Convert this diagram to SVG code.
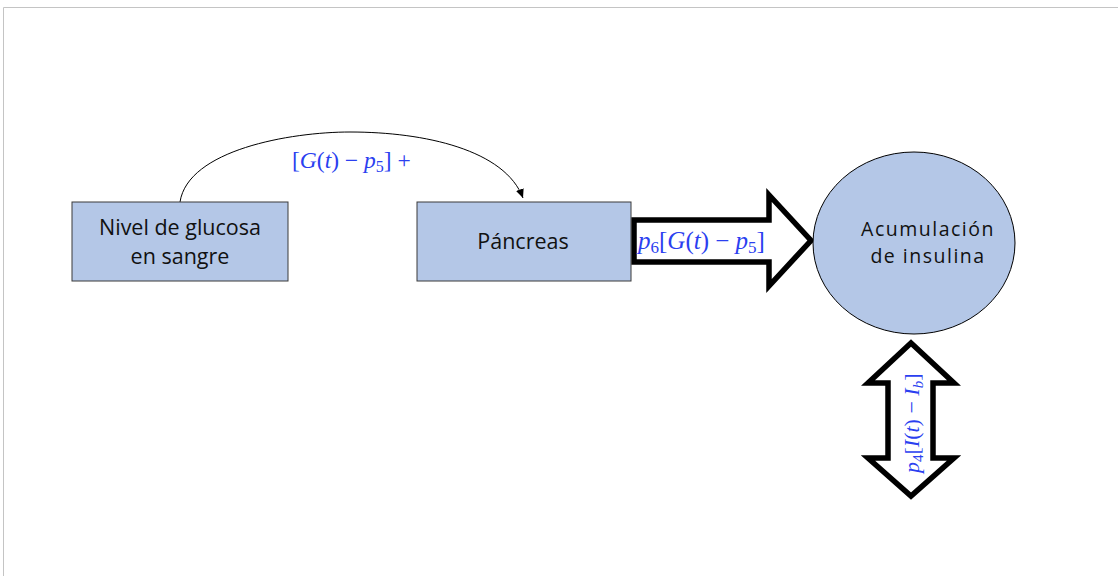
<svg xmlns="http://www.w3.org/2000/svg" width="1118" height="576" viewBox="0 0 1118 576">
<defs>
<style>
.box{fill:#b4c7e7;stroke:#3a3a3a;stroke-width:1}
.lbl{font-family:"Open Sans","Liberation Sans",sans-serif;fill:#111;text-anchor:middle}
.math{font-family:"Liberation Serif","DejaVu Serif",serif;fill:#2b3ff0}
.it{font-style:italic}
.fat{fill:#fff;stroke:#000;stroke-width:5.5;stroke-linejoin:miter}
</style>
<marker id="ah" markerWidth="10" markerHeight="10" refX="9" refY="5" orient="auto" markerUnits="userSpaceOnUse">
<path d="M0,1 L9,5 L0,9 Z" fill="#000"/>
</marker>
</defs>
<rect width="1118" height="576" fill="#fff"/>
<path d="M3.5,576 V7.5 H1118" fill="none" stroke="#c4c4c4" stroke-width="1"/>

<g id="connectors">
<path d="M180,202 C188,150 290,132 350,132 C425,132 505,150 523,198" fill="none" stroke="#000" stroke-width="1" marker-end="url(#ah)"/>
<text class="math" font-size="23.5" x="292" y="168">[<tspan class="it">G</tspan>(<tspan class="it">t</tspan>) − <tspan class="it">p</tspan><tspan font-size="16" dy="4">5</tspan><tspan dy="-4">] +</tspan></text>
<g id="arrow-right">
<polygon class="fat" points="634,220 769,220 769,195 811,240.5 769,286 769,262 634,262"/>
<text class="math" font-size="25" x="638" y="249"><tspan class="it">p</tspan><tspan font-size="17" dy="4">6</tspan><tspan dy="-4">[</tspan><tspan class="it">G</tspan>(<tspan class="it">t</tspan>) − <tspan class="it">p</tspan><tspan font-size="17" dy="4">5</tspan><tspan dy="-4">]</tspan></text>
</g>
<g id="arrow-vertical">
<polygon class="fat" points="911,343 954,383 933,383 933,458 954,458 911,496 868,458 888,458 888,383 868,383"/>
<text class="math" font-size="22" transform="translate(919,473) rotate(-90)" x="0" y="0"><tspan class="it">p</tspan><tspan font-size="15" dy="4">4</tspan><tspan dy="-4">[</tspan><tspan class="it">I</tspan>(<tspan class="it">t</tspan>) − <tspan class="it">I</tspan><tspan class="it" font-size="15" dy="4">b</tspan><tspan dy="-4">]</tspan></text>
</g>
</g>

<g id="node-glucosa">
<rect class="box" x="72" y="202" width="216" height="79"/>
<text class="lbl" font-size="21.5" x="180" y="235">Nivel de glucosa</text>
<text class="lbl" font-size="21.5" x="180" y="264">en sangre</text>
</g>

<g id="node-pancreas">
<rect class="box" x="417" y="202" width="214" height="79"/>
<text class="lbl" font-size="21.5" x="523" y="249">Páncreas</text>
</g>

<g id="node-insulina">
<ellipse cx="914" cy="243" rx="101" ry="91" fill="#b4c7e7" stroke="#000" stroke-width="1"/>
<text class="lbl" font-size="19.5" letter-spacing="1.5" x="928" y="236">Acumulación</text>
<text class="lbl" font-size="19.5" letter-spacing="1.5" x="928" y="263">de insulina</text>
</g>
</svg>
